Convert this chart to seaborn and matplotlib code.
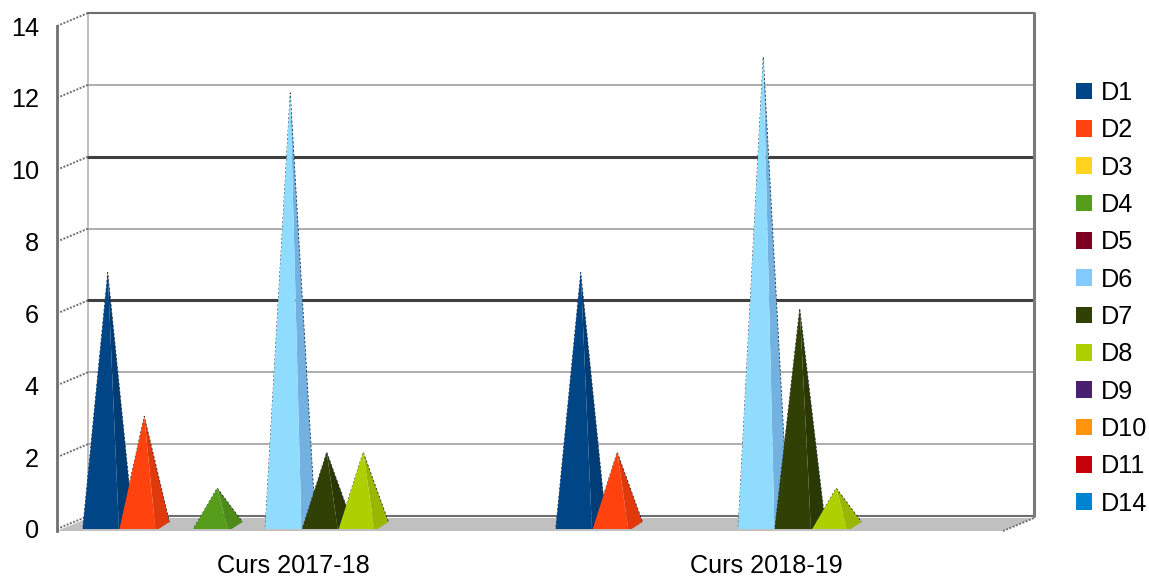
import pandas as pd
import seaborn as sns
import matplotlib.pyplot as plt
from matplotlib.patches import Patch, Polygon

cursos = ["Curs 2017-18", "Curs 2018-19"]
series = ["D1", "D2", "D3", "D4", "D5", "D6", "D7", "D8", "D9", "D10", "D11", "D14"]
valors_2017 = [7, 3, 0, 1, 0, 12, 2, 2, 0, 0, 0, 0]
valors_2018 = [7, 2, 0, 0, 0, 13, 6, 1, 0, 0, 0, 0]
colors = ["#004586", "#ff420e", "#ffd320", "#579d1c", "#7e0021", "#83caff",
          "#314004", "#aecf00", "#4b1f6f", "#ff950e", "#c5000b", "#0084d1"]
y_ticks = [0, 2, 4, 6, 8, 10, 12, 14]
dark_grid = [6, 10]

df = pd.DataFrame({
    "curs": [cursos[0]] * len(series) + [cursos[1]] * len(series),
    "serie": series * 2,
    "valor": valors_2017 + valors_2018,
})

sns.set_style("white")
plt.rcParams["font.family"] = ["Liberation Sans", "DejaVu Sans"]

W, H = 1149, 578
fig = plt.figure(figsize=(W / 100, H / 100), dpi=100)
ax = fig.add_axes([57 / W, (H - 529) / H, 946 / W, 503 / H])

# bars only give the geometry, the pyramids are built on top of them
sns.barplot(data=df, x="curs", y="valor", hue="serie", hue_order=series,
            palette=colors, width=438 / 473, gap=0, saturation=1,
            legend=False, ax=ax)
ax.set_xlim(-0.5, 1.5)
ax.set_ylim(0, 14)

# one pixel in data units
px = 2 / 946
py = 14 / 503
wall_dx, wall_dy = 31 * px, 13 * py
right = 1.5


def darker(c, f=0.88):
    r, g, b = plt.matplotlib.colors.to_rgb(c)
    return (r * f, g * f, b * f)


# floor
ax.add_patch(Polygon([(-0.5, -2 * py), (-0.5 + wall_dx, wall_dy - 2 * py),
                      (right + wall_dx, wall_dy - 2 * py), (right, -2 * py)],
                     closed=True, fc="#c0c0c0", ec="none", clip_on=False, zorder=1))

# back wall
for t in y_ticks:
    y = t + wall_dy
    if t in dark_grid:
        c, lw = "#404040", 2.2
    elif t in (0, 14):
        c, lw = "#6e6e6e", 1.5
    else:
        c, lw = "#a0a0a0", 1.2
    ax.plot([-0.5 + wall_dx, right + wall_dx], [y, y], color=c, lw=lw, clip_on=False, zorder=1.5)
    ax.plot([-0.5, -0.5 + wall_dx], [t, y], color="#707070", lw=1.4, ls=(0, (1, 0.8)),
            clip_on=False, zorder=1.5)
ax.plot([-0.5 + wall_dx] * 2, [wall_dy, 14 + wall_dy], color="#b4b4b4", lw=1.2, clip_on=False, zorder=1.4)
ax.plot([right + wall_dx] * 2, [wall_dy, 14 + wall_dy], color="#7a7a7a", lw=2.2, clip_on=False, zorder=1.6)
ax.plot([right, right + wall_dx], [-2 * py, wall_dy - 2 * py], color="#707070", lw=1.4,
        ls=(0, (1, 0.8)), clip_on=False, zorder=1.5)

# pyramids, sitting 8px to the right of the front plane slot
z = 2
for container, color in zip(ax.containers, colors):
    for bar in container:
        bar.set_visible(False)
        x0, w, v = bar.get_x() + 8 * px, bar.get_width(), bar.get_height()
        if not v:
            continue
        base = 2 * py
        xr = x0 + w
        tip = (x0 + w / 2 + 7 * px, v + 5 * py)
        side = [(xr, -base), (xr + 14 * px, -base + 9 * py), tip]
        front = [(x0, -base), (xr, -base), tip]
        face = "#8fdcff" if color == "#83caff" else color
        ax.add_patch(Polygon(side, closed=True, fc=darker(color), ec="none", zorder=z))
        ax.add_patch(Polygon(front, closed=True, fc=face, ec="none", zorder=z + 0.1))
        ax.plot([x0, tip[0], xr + 14 * px], [-base, tip[1], -base + 9 * py],
                color="#1c2c3c", lw=0.6, ls=(0, (2.5, 2.5)), zorder=z + 0.05)
        z += 1

sns.despine(ax=ax, top=True, right=True, bottom=True, left=False)
ax.spines["left"].set_color("#707070")
ax.spines["left"].set_linewidth(2)
ax.spines["left"].set_bounds(-2 * py, 14)
ax.set_xlabel("")
ax.set_ylabel("")
ax.set_xticks([0, 1], cursos)
ax.set_yticks(y_ticks)
ax.tick_params(axis="y", length=0, pad=13, labelsize=18.2, labelcolor="black")
ax.tick_params(axis="x", length=0, pad=18, labelsize=18.2, labelcolor="black")
ax.patch.set_alpha(0)

handles = [Patch(fc=c, ec="none", label=s) for c, s in zip(colors, series)]
fig.legend(handles=handles, loc="upper left", bbox_to_anchor=(1076 / W, (H - 81) / H),
           frameon=False, fontsize=18.2, labelcolor="black", handlelength=0.635, handleheight=0.635,
           handletextpad=0.36, labelspacing=0.527, borderaxespad=0, borderpad=0)

fig.savefig("out.png", dpi=100)
